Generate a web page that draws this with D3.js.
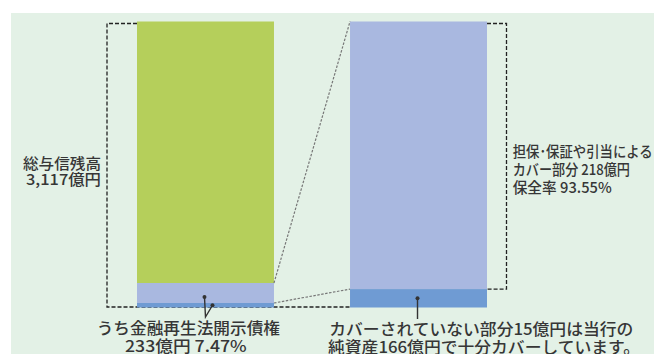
<!DOCTYPE html>
<html>
<head>
<meta charset="utf-8">
<script src="https://cdn.jsdelivr.net/npm/d3@7"></script>
<style>
  body { margin: 0; background: #fff; }
  text { font-family: "Noto Sans CJK JP", sans-serif; font-weight: 500; fill: #363636; }
</style>
</head>
<body>
<div id="chart"></div>
<script>
// Data (億円)
const categories = ["総与信残高", "開示債権"];
const total = 3117;
const disclosed = 233;
const covered = 218;
const uncovered = 15;

const leftSegments = [
  { key: "other", value: total - disclosed },
  { key: "covered", value: covered },
  { key: "uncovered", value: uncovered }
];
const rightSegments = [
  { key: "covered", value: covered },
  { key: "uncovered", value: uncovered }
];

const leftLabel = ["総与信残高", "3,117億円"];
const rightLabel = ["担保･保証や引当による", "カバー部分 218億円", "保全率 93.55%"];
const bottomLeftLabel = ["うち金融再生法開示債権", "233億円 7.47%"];
const bottomRightLabel = ["カバーされていない部分15億円は当行の", "純資産166億円で十分カバーしています。"];

const colors = { other: "#b5cf5b", covered: "#a9b8e0", uncovered: "#6f9bd3" };

// Set up the SVG
const width = 654, height = 354;
const svg = d3.select("#chart").append("svg")
  .attr("width", width)
  .attr("height", height);

svg.append("rect")
  .attr("x", 11).attr("y", 13)
  .attr("width", width - 11).attr("height", height - 13)
  .attr("fill", "#e3f1e6");

// Scales
const x = d3.scaleBand().domain(categories).range([137, 487]).paddingInner(0.357);
const yL = d3.scaleLinear().domain([0, total]).range([307.5, 21.5]);
const yR = d3.scaleLinear().domain([0, disclosed]).range([307.5, 21.5]);

// stack helper, smallest segment kept visible
function stack(segs, y, minH) {
  let acc = 0;
  const out = segs.map(s => ({ key: s.key, y0: acc, y1: (acc += s.value) }));
  out.reverse();
  let bottom = y(0);
  return out.map(s => {
    let h = y(s.y0) - y(s.y1);
    if (h < minH) h = minH;
    const r = { key: s.key, top: bottom - h, bottom: bottom };
    bottom = r.top;
    return r;
  }).reverse().map((r, i) => {
    // top of the first (largest) segment stays on the scale
    if (i === 0) r.top = y(segs.reduce((a, b) => a + b.value, 0));
    return r;
  });
}

const leftStack = stack(leftSegments, yL, 4.5);
const rightStack = stack(rightSegments, yR, 0);

const xL = x(categories[0]), xR = x(categories[1]), bw = x.bandwidth();

// Brackets (behind bars)
const topY = yL(total) + 2;
const botY = yL(0) - 0.5;
svg.append("path")
  .attr("d", `M${xL},${topY}H107V${botY}H${xR}`)
  .attr("fill", "none").attr("stroke", "#222").attr("stroke-width", 1.3)
  .attr("stroke-dasharray", "4,2");
svg.append("path")
  .attr("d", `M${xR + bw},${topY}H506.5V${yR(uncovered)}H${xR + bw}`)
  .attr("fill", "none").attr("stroke", "#222").attr("stroke-width", 1.3)
  .attr("stroke-dasharray", "4,2");

// Bars
svg.selectAll("rect.left").data(leftStack).enter().append("rect")
  .attr("class", "left")
  .attr("x", xL).attr("width", bw)
  .attr("y", d => d.top).attr("height", d => d.bottom - d.top)
  .attr("fill", d => colors[d.key]);
svg.selectAll("rect.right").data(rightStack).enter().append("rect")
  .attr("class", "right")
  .attr("x", xR).attr("width", bw)
  .attr("y", d => d.top).attr("height", d => d.bottom - d.top)
  .attr("fill", d => colors[d.key]);

// Zoom lines
const lCov = leftStack.find(d => d.key === "covered");
const lUnc = leftStack.find(d => d.key === "uncovered");
const rUnc = rightStack.find(d => d.key === "uncovered");
[[lCov.top, yR(disclosed)], [lUnc.top, rUnc.top]].forEach(([a, b]) => {
  svg.append("line")
    .attr("x1", xL + bw).attr("y1", a).attr("x2", xR).attr("y2", b)
    .attr("stroke", "#777").attr("stroke-width", 1.2)
    .attr("stroke-dasharray", "2.5,1.5");
});

// Pointers
const cxL = xL + bw / 2, cxR = xR + bw / 2;
const tip = [cxL, 317];
const pL1 = [cxL - 1, 297];
const pL2 = [cxL + 7, (lUnc.top + lUnc.bottom) / 2];
const pR = [cxR - 1, (rUnc.top + rUnc.bottom) / 2];
svg.append("path")
  .attr("d", `M${pL1}L${tip}L${pL2}M${pR}V319`)
  .attr("fill", "none").attr("stroke", "#333").attr("stroke-width", 1.4);
svg.selectAll("circle").data([pL1, pL2, pR]).enter().append("circle")
  .attr("cx", d => d[0]).attr("cy", d => d[1]).attr("r", 2)
  .attr("fill", "#333");

// Labels
function label(lines, opts) {
  lines.forEach((t, i) => {
    svg.append("text")
      .attr("x", opts.x).attr("y", opts.y[i])
      .attr("text-anchor", opts.anchor || "start")
      .attr("font-size", opts.size)
      .attr("textLength", opts.w[i])
      .attr("lengthAdjust", "spacingAndGlyphs")
      .text(t);
  });
}
label(leftLabel, { x: 101, y: [169, 184.5], anchor: "end", size: 15, w: [78, 75] });
label(rightLabel, { x: 512.7, y: [157, 175, 193], size: 15, w: [140, 117.3, 99] });
label(bottomLeftLabel.slice(0, 1), { x: 96.7, y: [334], size: 16, w: [183.3] });
label(bottomLeftLabel.slice(1), { x: 125, y: [351.5], size: 16, w: [121.7] });
label(bottomRightLabel.slice(0, 1), { x: 329.3, y: [335], size: 16, w: [304] });
label(bottomRightLabel.slice(1), { x: 328, y: [352.5], size: 16, w: [312] });
</script>
</body>
</html>
